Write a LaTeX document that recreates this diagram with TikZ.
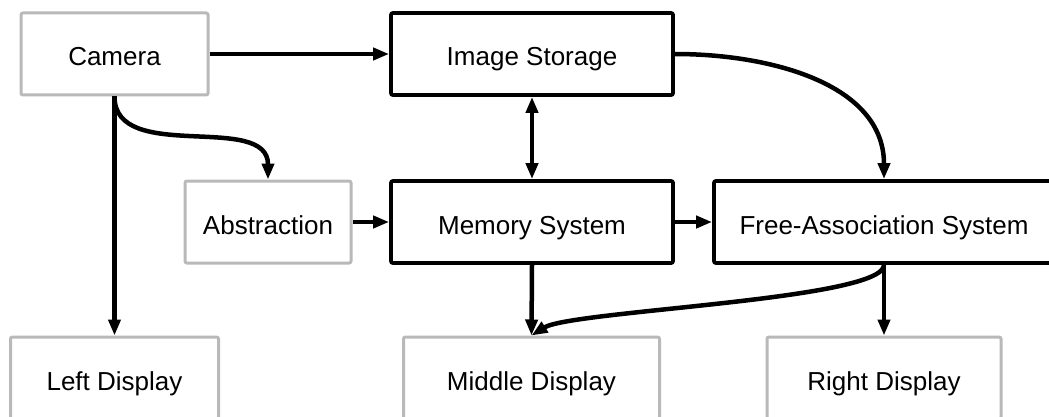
\documentclass[tikz,border=0pt]{standalone}
\usepackage{fontspec}
\setmainfont{Liberation Sans}
\usepackage{tikz}
\usetikzlibrary{arrows.meta}
\definecolor{boxgray}{RGB}{185,185,185}

\begin{document}
\begin{tikzpicture}[x=1pt,y=-1pt,
  font=\fontsize{26}{30}\selectfont,
  every node/.style={minimum height=82pt,text height=24pt,text depth=0pt,inner sep=0pt,rounded corners=2pt},
  graybox/.style={draw=boxgray,line width=3pt},
  blackbox/.style={draw=black,line width=3.8pt},
  link/.style={line width=4.5pt,-{Triangle[length=16pt,width=12pt]}}]
\useasboundingbox (0,0) rectangle (1049,417);
\node[graybox,minimum width=187pt] (cam) at (114.5,54) {Camera};
\node[blackbox,minimum width=282pt] (store) at (532,54) {Image Storage};
\node[graybox,minimum width=166pt] (abst) at (268,222) {Abstraction};
\node[blackbox,minimum width=282pt] (mem) at (532,222) {Memory System};
\node[blackbox,minimum width=340pt] (free) at (884,222) {Free-Association System};
\node[graybox,minimum width=208pt] (left) at (114.5,378) {Left Display};
\node[graybox,minimum width=256pt] (mid) at (531.5,378) {Middle Display};
\node[graybox,minimum width=234pt] (right) at (884,378) {Right Display};
\draw[link] (cam) -- (store);
\draw[link] (cam.south) -- (left.north);
\draw[link] (cam.south) to[out=-90,in=90] (abst.north);
\draw[link,{Triangle[length=16pt,width=12pt]}-{Triangle[length=16pt,width=12pt]}] (store.south) -- (mem.north);
\draw[link] (store.east) to[out=0,in=90] (free.north);
\draw[link] (abst) -- (mem);
\draw[link] (mem) -- (free);
\draw[link] (mem.south) -- (mid.north);
\draw[link] (free.south) -- (right.north);
\draw[link] (free.south) .. controls +(0,35) and +(40,-25) .. (mid.north);
\end{tikzpicture}
\end{document}
